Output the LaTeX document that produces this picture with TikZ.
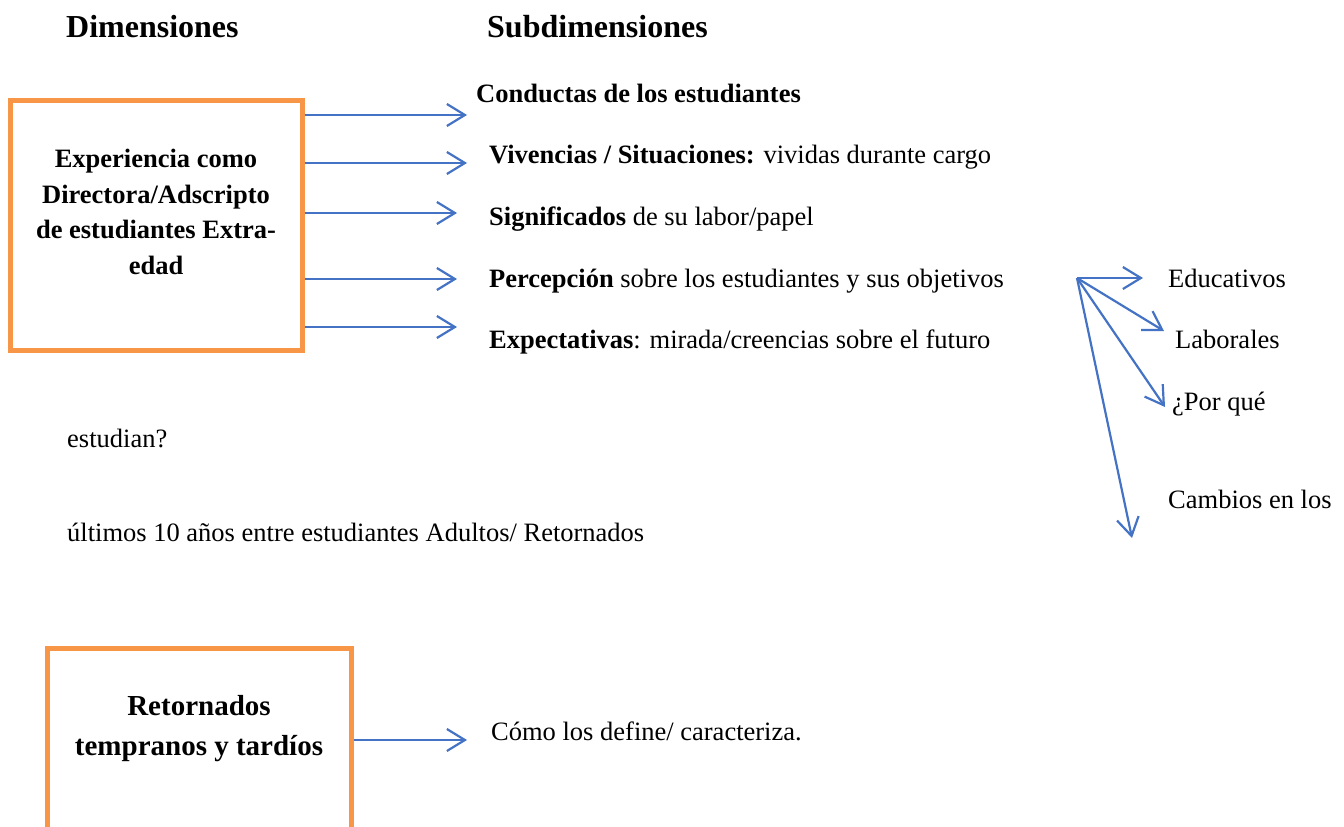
\documentclass[tikz,border=0pt]{standalone}
\usepackage{fontspec}
\setmainfont{Liberation Serif}
\usetikzlibrary{arrows.meta}
\definecolor{naranja}{RGB}{247,150,70}
\definecolor{azul}{RGB}{68,114,196}
\tikzset{
  dimbox/.style={draw=naranja, line width=5pt, inner sep=0pt},
  flecha/.style={draw=azul, line width=2.2pt, -{Straight Barb[length=18pt,width=22pt]}},
  texto/.style={anchor=base west, inner sep=0pt, font=\fontsize{26.5}{32}\selectfont},
  titulo/.style={anchor=base west, inner sep=0pt, font=\fontsize{32}{38}\selectfont\bfseries},
  cajatexto/.style={anchor=north, inner sep=0pt, align=center},
}
\begin{document}
\begin{tikzpicture}[x=1pt, y=-1pt]
    \useasboundingbox (0,0) rectangle (1344,827);
    % Títulos
    \node (tdim) at (66,37) [titulo] {Dimensiones};
    \node (tsub) at (487,37) [titulo] {Subdimensiones};

    % Dimensiones (cajas)
    \node (dim1) at (156,225) [dimbox, minimum width=292pt, minimum height=250pt] {};
    \node (dim1txt) at (156,149) [cajatexto, font=\fontsize{26.5}{35.5}\selectfont\bfseries]
        {Experiencia como\\Directora/Adscripto\\de estudiantes Extra-\\edad};
    \node (dim2) at (199,798) [dimbox, minimum width=304pt, minimum height=300pt] {};
    \node (dim2txt) at (199,695) [cajatexto, font=\fontsize{29}{40}\selectfont\bfseries]
        {Retornados\\tempranos y tardíos};

    % Subdimensiones
    \node (conducta) at (476,102) [texto] {\textbf{Conductas de los estudiantes}};
    \node (vivencia) at (489,163) [texto] {\textbf{Vivencias / Situaciones:} vividas durante cargo};
    \node (signif) at (489,225) [texto] {\textbf{Significados} de su labor/papel};
    \node (percep) at (489,287) [texto] {\textbf{Percepción} sobre los estudiantes y sus objetivos};
    \node (expect) at (489,348) [texto] {\textbf{Expectativas}: mirada/creencias sobre el futuro};
    \node (define) at (491,740) [texto] {Cómo los define/ caracteriza.};

    % Objetivos
    \node (educ) at (1168,287) [texto] {Educativos};
    \node (labor) at (1175,348) [texto] {Laborales};
    \node (porque) at (1172,410) [texto] {¿Por qué};
    \node (estud) at (67,447) [texto] {estudian?};
    \node (cambios) at (1168,508) [texto] {Cambios en los};
    \node (ultimos) at (67,541) [texto] {últimos 10 años entre estudiantes Adultos/ Retornados};

    % Flechas de la caja 1
    \coordinate (f1) at (467,115);
    \coordinate (f2) at (467,163);
    \coordinate (f3) at (457,213);
    \coordinate (f4) at (457,279);
    \coordinate (f5) at (457,327);
    \foreach \c in {f1,f2,f3,f4,f5}
        \draw[flecha] (dim1.east |- \c) -- (\c);

    % Flecha de la caja 2
    \coordinate (f6) at (467,740);
    \draw[flecha] (dim2.east |- f6) -- (f6);

    % Abanico de objetivos
    \coordinate (fan) at (1077,278);
    \coordinate (e1) at (1143,278);
    \coordinate (e2) at (1164,331);
    \coordinate (e3) at (1165,407);
    \coordinate (e4) at (1132,538);
    \foreach \c in {e1,e2,e3,e4}
        \draw[flecha] (fan) -- (\c);
\end{tikzpicture}
\end{document}
